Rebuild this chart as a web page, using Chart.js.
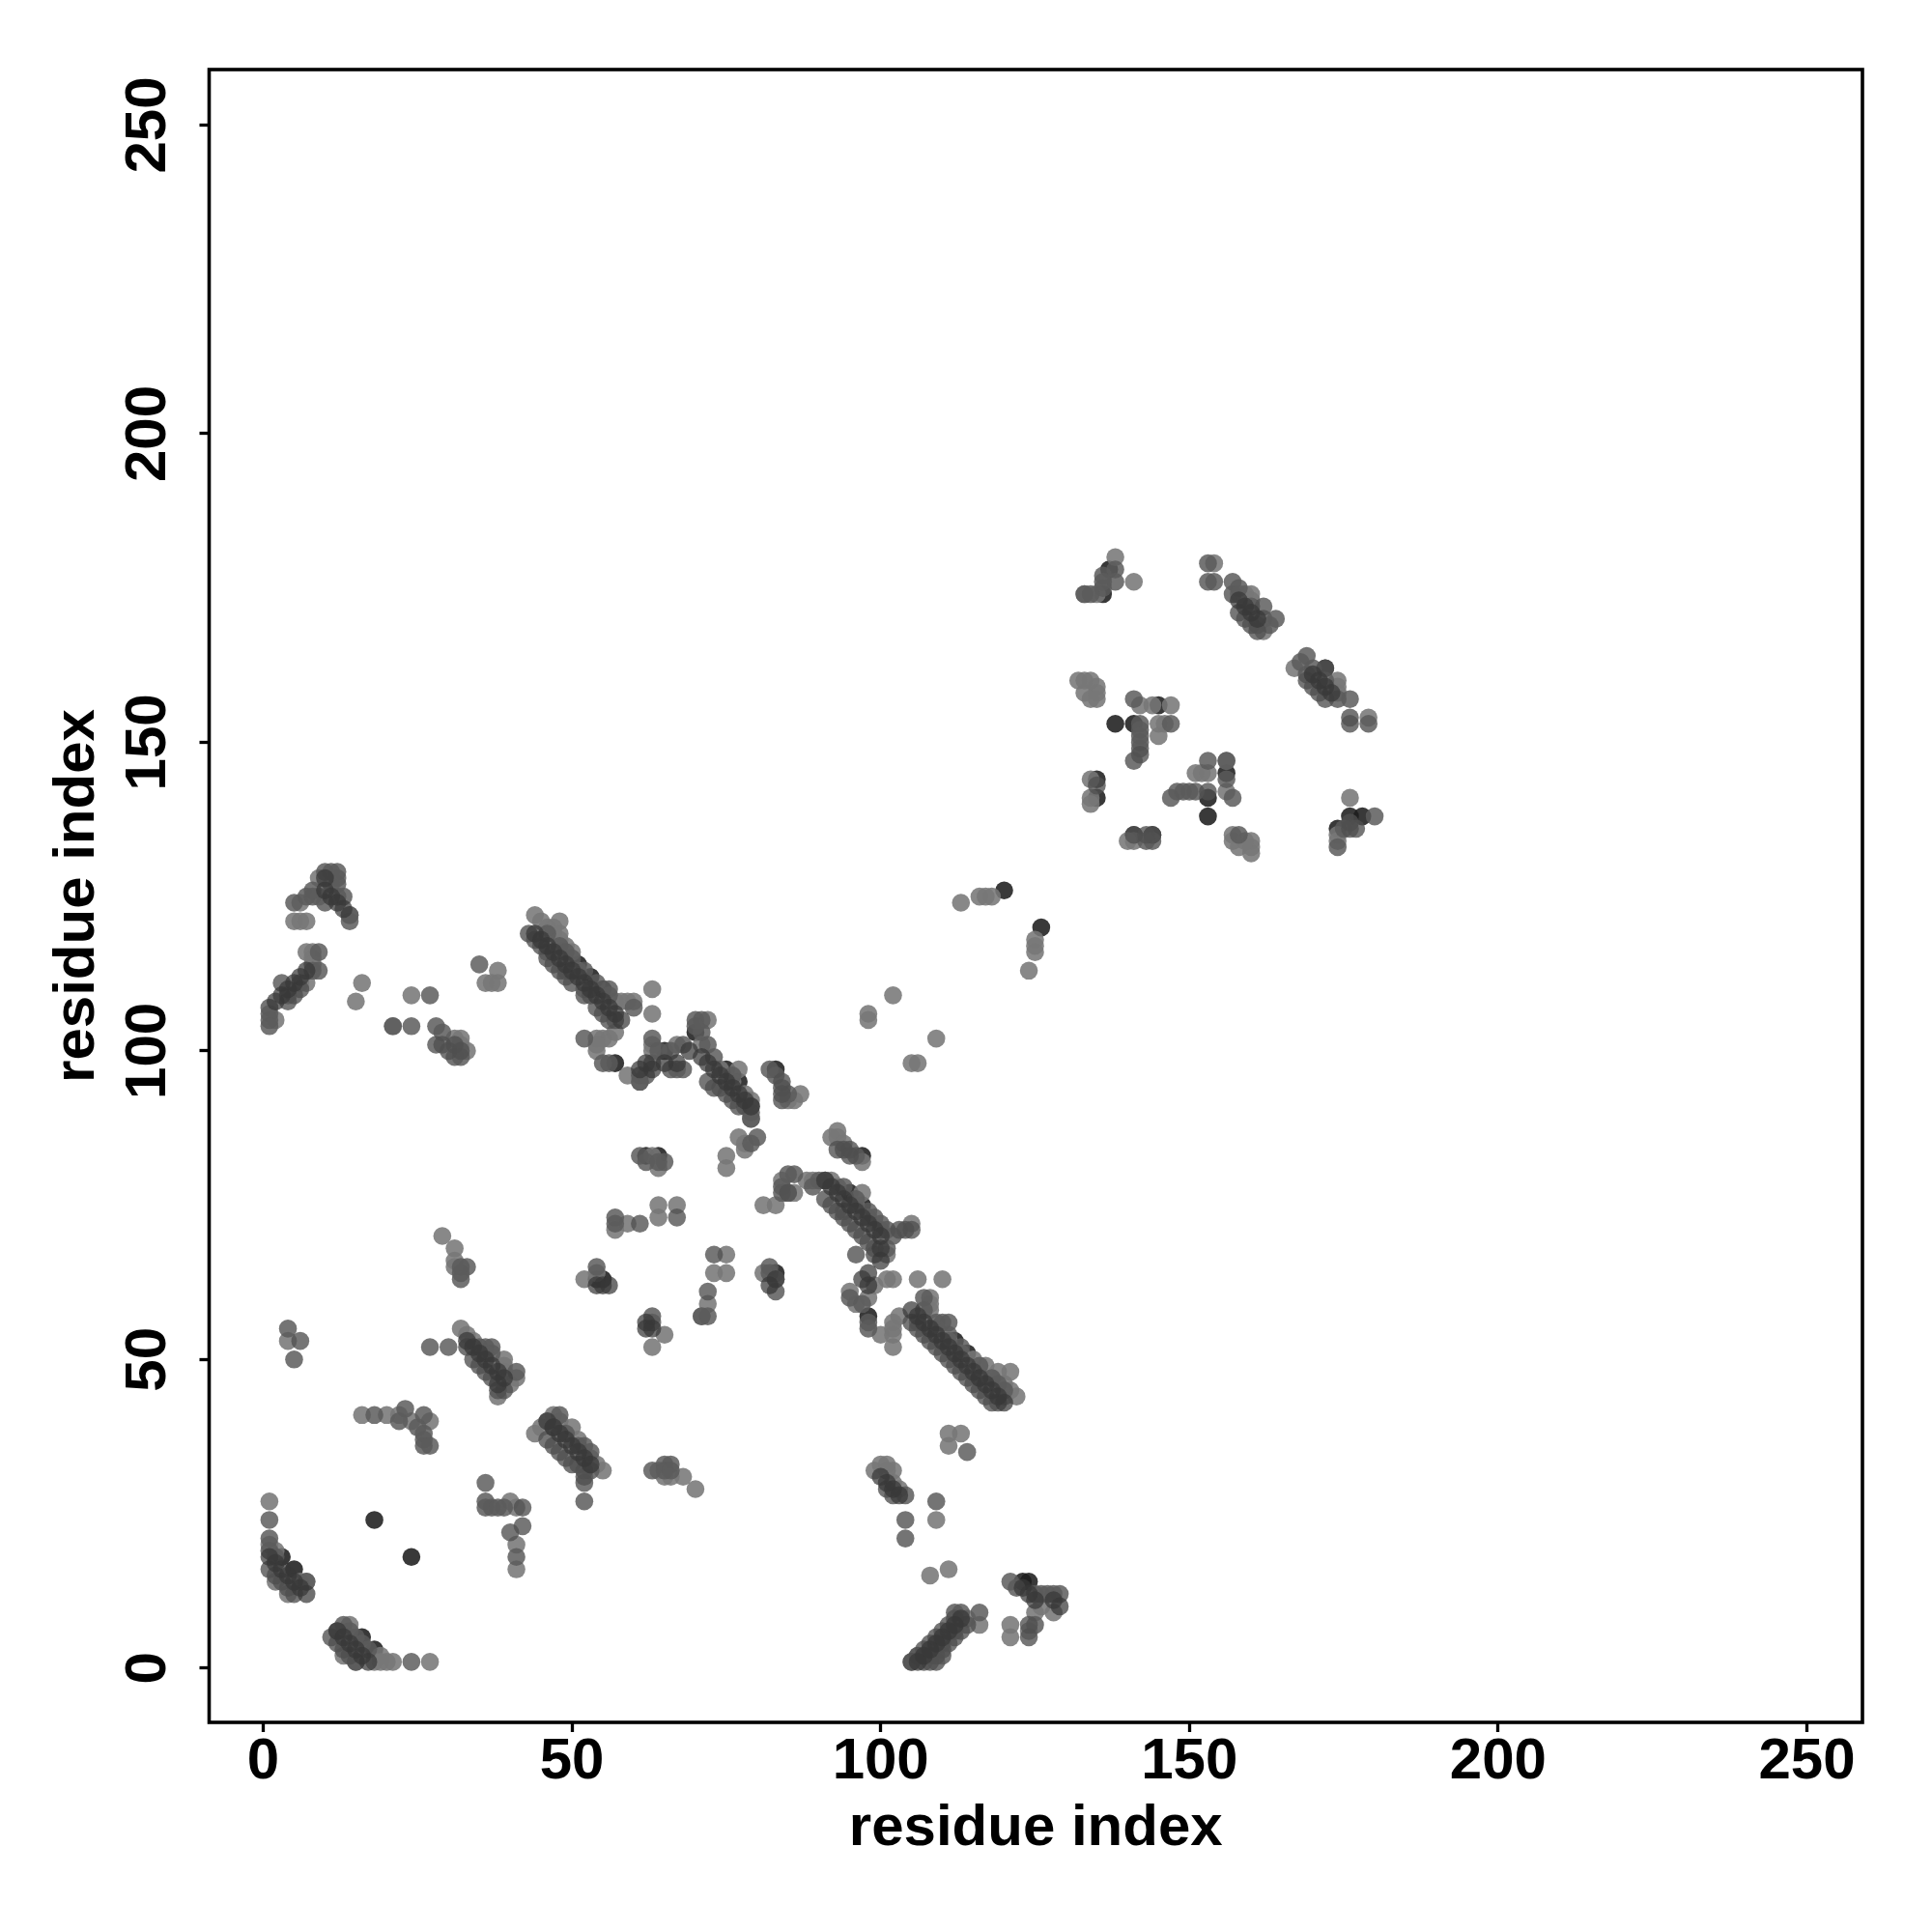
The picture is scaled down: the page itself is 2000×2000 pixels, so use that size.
<!DOCTYPE html>
<html><head><meta charset="utf-8">
<style>html,body{margin:0;padding:0;background:#fff}canvas{display:block}</style>
<script src="https://cdn.jsdelivr.net/npm/chart.js@4"></script>
</head><body><canvas id="c" width="2000" height="2000"></canvas>
<script>
const tickValues=[0,50,100,150,200,250];
const axisTitle="residue index";
const darkContacts=[[1,18],[2,17],[3,16],[4,15],[5,14],[6,13],[7,12],
[12,6],[13,5],[14,4],[15,3],[16,2],[17,1],
[33,53],[34,52],[35,51],[36,50],[37,49],[38,48],[39,47],[38,46],
[46,40],[47,39],[48,38],[49,37],[50,36],[51,35],[52,34],[53,33],
[2,108],[3,109],[4,110],[5,111],[6,112],[7,113],
[10,128],[10,126],[11,125],[12,124],[13,123],
[44,119],[45,118],[46,117],[47,116],[48,115],[49,114],[50,113],[51,112],[52,111],[53,110],[54,109],[55,108],[56,107],[57,106],[58,105],
[61,97],[62,98],[63,97],[65,98],[67,98],[69,100],
[71,99],[72,98],[73,97],[74,96],[75,95],[76,94],[77,93],[78,92],[79,91],
[54,62],[55,62],[56,62],[62,56],[62,55],[63,55],[82,62],[83,63],
[91,79],[92,78],[93,77],[94,76],[95,75],[96,74],[97,73],[98,72],[99,71],[100,70],[100,68],[100,66],[98,62],[97,63],[98,64],
[105,58],[106,57],[107,56],[108,55],[109,54],[110,53],[111,52],[112,51],[113,50],[114,49],[115,48],[116,47],[117,46],[118,45],[119,44],[120,43],
[100,31],[101,30],[102,29],[103,28],
[106,1],[107,2],[108,3],[109,4],[110,5],[111,6],[112,7],[113,8],
[123,13],[124,12],[125,11],[128,11],[129,10],
[158,173],[159,172],[160,171],[161,170],[170,161],[171,160],[172,159],[173,158]];
const darkMidContacts=[[6,53],[3,111],[4,108],[5,109],[6,110],[30,52],[28,101],[29,101],[30,100],[31,101],[32,100],
[52,30],[36,30],[42,23],[40,22],[24,1],[61,72],[67,73],[73,67],[72,61],[1,24],[42,26],[35,114],
[84,95],[84,94],[84,93],[85,77],[93,84],[94,84],[95,84],[95,83],[105,71],[103,71],[104,71],[114,35],[102,28],[101,29],[124,7],[124,5],
[141,135],[144,135],[143,135],[142,148],[162,172],[172,162],[176,153],[153,142],[135,143],[176,137],[177,136],[176,136],
[1,16],[2,15],[3,14],[4,13],[5,12],[11,5],[12,4],[13,3],[14,2],[15,1],
[34,50],[35,49],[36,48],[37,47],[38,45],[39,45],[46,37],[47,36],[48,35],[49,34],[50,33],[51,33],[52,32],
[44,118],[45,117],[46,115],[47,114],[48,113],[49,112],[50,111],[52,109],[53,109],[54,107],[55,106],[56,105],[57,105],
[72,95],[74,94],[76,92],[77,91],[73,94],[75,93],[91,76],[92,75],[93,74],[94,73],[95,72],[96,71],[97,70],[98,69],[99,68],
[105,56],[106,55],[107,54],[108,53],[109,52],[110,51],[111,50],[112,49],[113,48],[114,47],[115,46],[116,45],[117,44],[118,43],[119,43],
[105,1],[106,2],[107,3],[108,4],[109,5],[110,6],[111,7],[112,8],[108,1],[109,2],[110,3],[111,4],[112,5],[113,6],[114,7],
[158,171],[159,170],[160,169],[161,168],[169,160],[170,159],[171,158],[172,157]];
const midContacts=[[4,55],[5,50],[32,64],[33,65],[32,65],[32,63],[27,52],[33,52],[35,52],[36,52],[37,52],[37,51],[41,48],
[18,41],[23,42],[22,40],[26,41],[26,38],[26,37],[26,36],[27,36],[25,39],[48,41],[47,39],[49,38],[52,36],[51,36],[53,35],[52,31],[53,32],
[36,27],[36,26],[37,26],[38,26],[39,26],[41,18],[52,27],[1,21],[1,19],[2,18],[7,14],
[13,7],[12,6],[15,5],[14,6],[16,4],[17,3],
[57,72],[54,65],[82,65],[82,64],[83,61],[71,57],[72,57],[63,57],[63,56],
[63,32],[65,33],[66,33],[65,32],[66,32],
[9,116],[9,113],[8,113],[5,124],[7,125],[8,125],[8,126],[10,129],[12,129],[12,128],[12,127],[11,129],[10,124],[12,125],[14,121],[14,122],[13,125],
[1,107],[1,106],[1,105],[1,104],[27,109],[21,104],[24,104],[28,104],[29,103],[31,99],[32,99],
[43,119],[46,119],[48,117],[49,116],[50,115],[52,113],[54,111],[56,110],[56,109],[60,107],[52,102],[55,98],[56,98],
[61,96],[61,95],[62,96],[63,98],[68,101],[67,97],[66,97],[68,97],[63,102],[64,100],[66,100],[70,105],[71,105],[71,103],[70,104],[72,101],[73,99],[76,96],[78,91],[79,90],[79,89],[79,91],
[80,86],[79,85],[61,83],[62,82],[65,82],[64,82],[57,73],[82,97],[83,96],[84,92],[85,93],
[86,80],[85,80],[84,78],[84,77],[90,79],[91,79],[89,78],[96,83],
[94,78],[96,76],[98,74],[100,72],[99,73],[101,71],[102,70],[101,68],[99,67],[96,67],[95,60],[97,59],[98,55],[98,56],[104,28],[109,27],[104,24],[104,21],[107,60],[110,56],[111,56],
[107,58],[109,56],[111,54],[113,52],[116,49],[118,47],[119,46],[120,45],
[113,9],[112,9],[116,9],[121,14],[125,12],[126,12],[127,12],[128,12],[129,12],[125,7],[122,13],[105,1],[107,1],[109,1],[110,2],
[141,157],[142,153],[142,152],[142,151],[142,150],[142,149],[141,147],[147,153],[138,176],[136,175],[136,176],[136,177],[134,174],[138,178],[133,174],
[153,179],[153,176],[154,176],[157,176],[157,174],[164,170],[163,169],[161,169],[158,175],[160,172],[162,170],[169,164],[169,161],[168,163],[170,162],[172,160],[176,157],[176,154],[174,157],[179,153],
[153,147],[156,147],[156,144],[147,141],[148,142],[149,142],[150,142],[151,142],[157,141],[174,133],[175,136],[180,138],[144,134],[143,134],[158,135]];
const lightContacts=[[29,70],[31,68],[31,66],[31,65],[4,53],[32,55],[33,54],[39,50],[39,49],[39,48],[41,47],[40,46],[38,44],[36,51],[34,53],
[16,41],[20,41],[24,40],[27,40],[22,41],[44,38],[45,39],[46,40],[47,41],[48,40],[50,39],[54,33],[55,32],[53,34],[51,37],[40,27],[41,26],[41,20],[41,16],[1,27],[1,20],[2,19],[6,14],[7,14],[4,12],[2,14],
[14,7],[19,2],[20,1],[21,1],[27,1],[18,1],[19,1],[13,2],[15,1],
[52,63],[54,64],[57,71],[59,72],[64,73],[64,75],[67,75],[75,67],[75,64],[73,64],[72,59],[71,57],[81,64],[83,63],[63,52],[65,54],[64,32],[65,31],[66,31],[68,31],[70,29],
[9,128],[9,125],[11,127],[6,124],[5,121],[6,121],[7,121],[14,122],[7,116],[8,116],[8,115],[8,114],[7,111],[2,105],[4,109],[6,111],
[16,111],[15,108],[38,113],[36,111],[37,111],[38,111],[24,109],[21,104],[32,102],[31,102],[33,100],[32,101],
[44,122],[45,121],[46,120],[47,120],[48,121],[47,119],[48,119],[48,118],[49,117],[50,116],[46,116],[51,113],[49,113],[52,110],[57,108],[58,108],[59,108],[60,108],[63,110],[63,106],
[54,102],[55,102],[56,102],[57,103],[54,100],[54,101],[59,96],[61,95],[63,101],[63,100],[67,101],[72,105],[71,101],[77,97],[78,93],[79,92],[79,89],[74,97],[76,95],
[77,86],[78,85],[75,83],[75,81],[78,84],[63,83],[64,81],[86,92],[87,93],[85,92],
[93,87],[92,86],[93,86],[94,85],[97,82],[86,77],[85,77],[81,75],[83,75],[84,79],[88,79],[89,79],[92,79],[93,78],[97,77],[100,71],[101,67],[105,72],[99,62],[95,61],[96,59],[101,63],[102,63],[106,63],[110,63],[98,60],[96,75],[94,74],[98,73],
[100,54],[102,52],[102,54],[102,56],[103,57],[102,55],[108,60],[108,58],[108,59],[115,50],[117,49],[119,48],[121,48],[121,45],[122,44],[120,44],[118,47],[120,46],[109,55],[106,56],[111,53],[113,51],[116,47],
[111,38],[113,38],[111,36],[99,32],[102,32],[101,32],[100,33],[102,30],[103,29],[101,33],[109,24],[108,15],[111,16],[116,7],[114,8],[121,7],[121,5],[106,2],[124,6],[128,9],[125,9],[126,10],[108,2],[110,4],[112,6],
[113,124],[116,125],[117,125],[118,125],[125,118],[125,117],[125,116],[98,106],[98,105],[105,98],[106,98],[124,113],[109,102],[102,109],
[133,174],[135,174],[141,176],[138,180],[154,179],[158,174],[159,174],[160,174],[159,173],[160,173],[162,168],
[167,162],[174,160],[174,159],[174,158],[179,154],
[132,160],[133,160],[134,160],[133,158],[135,159],[135,158],[134,157],[135,157],[142,156],[144,156],[147,156],[145,153],[146,153],[145,151],
[134,144],[134,141],[134,140],[151,145],[152,145],[153,145],[156,147],[156,142],[176,141],[174,134],[174,135],[140,134],[141,134],[157,135],[157,134],[158,133],[160,134],[160,133],[160,132],[159,134]];
const topDarkContacts=[[18,24],[24,18],[3,18],[5,16],[16,5],[18,3],[112,53],[114,51],[57,98],[98,57],[95,77],[97,75],[83,97],[77,95],[75,97],
[55,63],[54,63],[62,83],[64,83],[83,64],[65,100],[70,103],[51,114],[53,112],[55,110],[97,83],[138,153],[141,153],[145,156],[153,141],[153,138],[156,145],[174,136],[176,138],[178,138],[136,174],[135,141],[135,144],[141,135],[144,135],[120,126],[126,120],[123,14],[124,14],[172,162],[137,178]];
const shades=["rgba(55,55,55,.72)","rgba(80,80,80,.78)","rgba(92,92,92,.85)","rgba(120,120,120,.88)","rgba(30,30,30,.88)"];
const series=[darkContacts,darkMidContacts,midContacts,lightContacts,topDarkContacts];
const layoutSize={left:216.5,bottom:217};
const frame={id:'frame',afterDatasetsDraw(ch){const a=ch.chartArea,g=ch.ctx;g.save();g.strokeStyle='#000';g.lineWidth=3.6;g.strokeRect(a.left,a.top,a.right-a.left,a.bottom-a.top);g.restore();}};
const font={family:'"Liberation Sans"',size:60,weight:'bold'};
new Chart(document.getElementById('c'),{type:'scatter',plugins:[frame],
data:{datasets:series.map((d,i)=>({data:d,backgroundColor:shades[i],borderWidth:0,pointRadius:9.3,pointHoverRadius:9.3}))},
options:{responsive:false,animation:false,events:[],devicePixelRatio:1,
layout:{padding:{left:0,top:72,right:72,bottom:0}},
plugins:{legend:{display:false},tooltip:{enabled:false}},
scales:{
x:{type:'linear',min:-8.76,max:259,afterBuildTicks(s){s.ticks=tickValues.map(v=>({value:v}));},afterFit(s){s.height=layoutSize.bottom;},
grid:{display:true,drawOnChartArea:false,drawTicks:true,tickLength:10,tickWidth:3.3,tickColor:'#000'},border:{display:false},
ticks:{color:'#000',font,padding:-5,maxRotation:0,minRotation:0,autoSkip:false},
title:{display:true,text:axisTitle,color:'#000',font,padding:{top:0,bottom:71}}},
y:{type:'linear',min:-8.8,max:259,afterBuildTicks(s){s.ticks=tickValues.map(v=>({value:v}));},afterFit(s){s.width=layoutSize.left;},
grid:{display:true,drawOnChartArea:false,drawTicks:true,tickLength:10,tickWidth:3.3,tickColor:'#000'},border:{display:false},
ticks:{color:'#000',font,padding:2,minRotation:90,maxRotation:90,crossAlign:'center',autoSkip:false},
title:{display:true,text:axisTitle,color:'#000',font,padding:{top:44,bottom:0}}}
}}});
</script></body></html>
